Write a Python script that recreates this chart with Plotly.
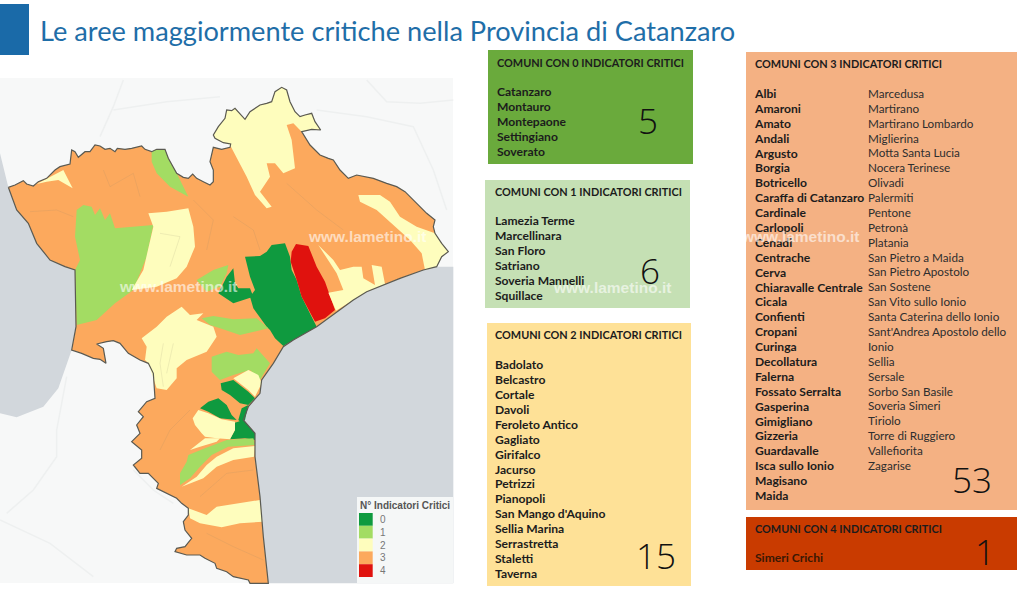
import plotly.graph_objects as go

title = "Le aree maggiormente critiche nella Provincia di Catanzaro"

class_colors = ["#0f9a3f", "#a3dc63", "#fefdbd", "#fca95d", "#e0120e"]
class_labels = ["0", "1", "2", "3", "4"]
box_colors = ["#6aaa3c", "#c5e0b4", "#fee197", "#f4b183", "#c93b00"]
box_counts = [5, 6, 15, 53, 1]

comuni_0 = ["Catanzaro", "Montauro", "Montepaone", "Settingiano", "Soverato"]
comuni_1 = ["Lamezia Terme", "Marcellinara", "San Floro", "Satriano", "Soveria Mannelli", "Squillace"]
comuni_2 = ["Badolato", "Belcastro", "Cortale", "Davoli", "Feroleto Antico", "Gagliato", "Girifalco",
            "Jacurso", "Petrizzi", "Pianopoli", "San Mango d'Aquino", "Sellia Marina", "Serrastretta",
            "Staletti", "Taverna"]
comuni_3_a = ["Albi", "Amaroni", "Amato", "Andali", "Argusto", "Borgia", "Botricello", "Caraffa di Catanzaro",
              "Cardinale", "Carlopoli", "Cenadi", "Centrache", "Cerva", "Chiaravalle Centrale", "Cicala",
              "Confienti", "Cropani", "Curinga", "Decollatura", "Falerna", "Fossato Serralta", "Gasperina",
              "Gimigliano", "Gizzeria", "Guardavalle", "Isca sullo Ionio", "Magisano", "Maida"]
comuni_3_b = ["Marcedusa", "Martirano", "Martirano Lombardo", "Miglierina", "Motta Santa Lucia",
              "Nocera Terinese", "Olivadi", "Palermiti", "Pentone", "Petronà", "Platania",
              "San Pietro a Maida", "San Pietro Apostolo", "San Sostene", "San Vito sullo Ionio",
              "Santa Caterina dello Ionio", "Sant'Andrea Apostolo dello", "Ionio", "Sellia", "Sersale",
              "Sorbo San Basile", "Soveria Simeri", "Tiriolo", "Torre di Ruggiero", "Vallefiorita", "Zagarise"]
comuni_4 = ["Simeri Crichi"]

# map outlines at 3x (upper half, then lower half of the map)
outline_north = [(25, 352), (45, 345), (70, 332), (80, 342), (100, 348), (115, 335), (140, 325), (165, 300), (180, 290),
                 (210, 282), (215, 240), (225, 245), (235, 262), (255, 245), (270, 245), (285, 225), (300, 228),
                 (315, 238), (330, 235), (345, 245), (352, 235), (375, 238), (395, 235), (425, 228), (435, 238),
                 (455, 245), (470, 238), (495, 238), (505, 265), (520, 290), (530, 310), (550, 322), (565, 325),
                 (578, 312), (590, 325), (610, 335), (630, 345), (640, 335), (640, 300), (630, 275), (640, 232),
                 (665, 238), (690, 232), (692, 222), (670, 218), (645, 205), (640, 195), (655, 170), (675, 145),
                 (680, 120), (695, 122), (705, 115), (720, 130), (735, 148), (750, 125), (780, 105), (800, 100),
                 (815, 95), (825, 65), (845, 52), (860, 60), (870, 95), (885, 125), (900, 140), (915, 135), (935, 130),
                 (945, 155), (962, 180), (935, 178), (905, 185), (930, 225), (960, 255), (985, 265), (1000, 270),
                 (1020, 300), (1045, 325), (1070, 315), (1100, 320), (1120, 325), (1160, 340), (1190, 350), (1215, 365),
                 (1250, 400), (1280, 430), (1305, 450), (1300, 470), (1305, 490), (1325, 520), (1345, 545), (1325, 560),
                 (1310, 590), (1270, 600), (1200, 625), (1150, 645), (1100, 665), (1060, 690), (1005, 730), (950, 770)]
outline_east = [(880, 30), (850, 50), (820, 100), (785, 150), (780, 190), (745, 230), (730, 270), (765, 310),
                (765, 380), (780, 500), (790, 620), (805, 760)]
outline_south = [(750, 760), (745, 750), (700, 740), (680, 725), (650, 715), (645, 700), (615, 685), (600, 675),
                 (560, 675), (525, 665), (530, 655), (555, 650), (575, 625), (555, 600), (550, 575), (565, 555),
                 (565, 535), (545, 520), (530, 505), (500, 490), (470, 475), (475, 460), (445, 430), (420, 430),
                 (400, 405), (425, 385), (425, 360), (395, 335), (420, 310), (410, 285), (430, 260), (415, 245),
                 (440, 215), (465, 205), (462, 170), (460, 130), (445, 100), (420, 90), (385, 70), (360, 40),
                 (340, 32), (320, 35), (290, 42), (310, 55), (318, 100), (300, 88), (280, 85), (245, 70), (215, 60),
                 (225, 0)]
outline_west = [(228, 770), (225, 600), (195, 590), (150, 570), (110, 520), (85, 460), (50, 420), (25, 352)]

sea_west_north = [(0, 250), (25, 352), (50, 420), (85, 460), (110, 520), (150, 570), (195, 590), (225, 600), (228, 770)]
sea_west_south = [(225, 0), (215, 60), (190, 130), (175, 175), (130, 230), (50, 262), (0, 250)]
sea_east_north = [(1360, 590), (1310, 590), (1270, 600), (1200, 625), (1150, 645), (1100, 665), (1060, 690), (1005, 730),
                  (950, 770)]
sea_east_south = [(1360, 760)]

land_lines_north = [[(370, 30), (340, 110), (300, 200)], [(340, 120), (500, 95), (660, 80)],
                    [(1100, 30), (1160, 95), (1260, 100), (1360, 90)],
                    [(950, 120), (1100, 140), (1240, 170), (1300, 300), (1340, 420)]]
land_lines_south = [[(200, 140), (170, 300), (170, 380), (100, 480), (20, 550)], [(400, 420), (460, 480), (520, 520)],
                    [(0, 570), (150, 640), (280, 740)]]
province_lines_north = [[(310, 300), (330, 350), (400, 310), (420, 380)], [(580, 390), (640, 450), (620, 540)],
                        [(700, 440), (760, 480), (780, 540)], [(860, 340), (950, 420), (1030, 480)],
                        [(480, 490), (540, 500), (510, 590)], [(90, 425), (170, 420), (220, 440)]]
province_lines_south = [[(490, 40), (480, 100), (490, 170)], [(520, 40), (510, 90), (500, 130)],
                        [(480, 360), (510, 300), (570, 240)], [(600, 500), (680, 430), (760, 420)],
                        [(620, 610), (700, 650), (790, 690)]]


def low(points):
    # lower crop starts 260 px further down the page
    return [(x, y + 780) for x, y in points]


province = outline_north + low(outline_east) + low(outline_south) + outline_west

regions = [
    (2, [(690, 225), (670, 218), (645, 205), (640, 195), (655, 170), (675, 145), (680, 120), (695, 122), (705, 115),
         (720, 130), (735, 148), (750, 125), (780, 105), (800, 100), (815, 95), (825, 65), (845, 52), (860, 60),
         (870, 95), (885, 125), (900, 140), (915, 135), (935, 130), (945, 155), (962, 180), (935, 178), (905, 185),
         (880, 160), (860, 165), (875, 210), (880, 250), (885, 295), (850, 310), (825, 280), (800, 280), (810, 320),
         (780, 365), (815, 410), (800, 415), (765, 375), (740, 320), (700, 240)]),
    (1, [(455, 245), (470, 238), (495, 238), (505, 265), (530, 310), (565, 380), (510, 350), (470, 310), (455, 275)]),
    (2, [(110, 342), (180, 305), (190, 300), (218, 355), (175, 330), (140, 335)]),
    (1, [(230, 420), (250, 405), (275, 410), (285, 435), (300, 415), (315, 450), (330, 430), (345, 475), (460, 465),
         (440, 560), (420, 610), (400, 660), (345, 700), (290, 750), (230, 765), (225, 600), (240, 570), (225, 500)]),
    (2, [(445, 430), (500, 425), (565, 415), (580, 470), (585, 530), (560, 590), (530, 625), (470, 650), (395, 660),
         (430, 600), (460, 470)]),
    (1, [(590, 630), (640, 600), (685, 585), (680, 610), (660, 650), (620, 665)]),
    (0, [(735, 560), (780, 558), (800, 545), (815, 525), (855, 520), (870, 560), (875, 600), (890, 630), (905, 680),
         (940, 750), (950, 770)] + low([(880, 30), (850, 48), (825, 25), (810, 0)]) + [(800, 770), (760, 715),
         (750, 680), (765, 660), (750, 620)]),
    (0, [(700, 595), (705, 640), (715, 655), (750, 655), (760, 680), (700, 700), (655, 670), (680, 620)]),
    (4, [(888, 522), (925, 528), (950, 590), (975, 635), (1005, 720), (975, 745), (945, 755), (905, 680), (890, 630),
         (872, 575), (875, 545)]),
    (2, [(955, 525), (1000, 570), (1020, 600), (1060, 590), (1085, 590), (1090, 625), (1125, 645), (1115, 585),
         (1145, 590), (1155, 642), (1100, 665), (1060, 690), (1008, 722), (985, 668), (1030, 660), (1010, 610)]),
    (2, [(1075, 375), (1140, 375), (1170, 395), (1200, 440), (1250, 470), (1305, 490), (1325, 520), (1345, 545),
         (1325, 560), (1310, 590), (1275, 600), (1265, 550), (1230, 510), (1180, 465), (1130, 420), (1080, 395)]),
    (2, [(470, 770), (500, 740), (545, 710), (570, 735), (610, 730), (590, 750), (640, 770)] + low([(650, 20),
         (620, 65), (560, 90), (530, 115), (530, 145), (500, 180), (470, 175), (445, 100), (435, 90), (440, 50),
         (425, 25)])),
    (1, [(605, 745), (640, 738), (700, 748), (770, 745), (805, 775), (720, 795), (660, 775), (630, 765)]),
    (1, low([(635, 80), (680, 65), (715, 75), (760, 70), (770, 55), (810, 100), (780, 150), (750, 120), (700, 135),
             (660, 150), (635, 125)])),
    (2, low([(700, 145), (745, 120), (775, 135), (785, 160), (765, 200), (745, 180)])),
    (0, low([(662, 160), (700, 150), (745, 185), (765, 205), (745, 225), (720, 220), (690, 195), (665, 180)])),
    (0, low([(600, 235), (625, 215), (655, 205), (680, 225), (695, 255), (710, 270), (660, 265), (625, 245)])),
    (0, low([(700, 280), (730, 270), (765, 310), (765, 330), (735, 325), (690, 328), (705, 300)])),
    (0, low([(715, 270), (725, 235), (745, 225), (735, 270), (725, 280)])),
    (2, low([(578, 265), (595, 240), (625, 250), (665, 268), (705, 275), (705, 300), (690, 328), (650, 325),
             (615, 320), (605, 310), (585, 285)])),
    (2, low([(570, 360), (615, 325), (660, 325), (650, 335), (600, 350)])),
    (1, low([(540, 465), (540, 430), (560, 395), (565, 375), (615, 355), (680, 330), (760, 325), (765, 345),
             (685, 350), (635, 375), (600, 410), (570, 445)])),
    (2, low([(545, 470), (590, 440), (620, 405), (650, 380), (700, 355), (765, 348), (762, 380), (700, 390),
             (650, 410), (610, 445)])),
    (2, low([(565, 535), (620, 555), (650, 530), (720, 520), (780, 510), (788, 575), (720, 580), (665, 592),
             (600, 580), (570, 565)])),
]

watermarks = [(367, 236), (178, 286), (612, 287), (800, 236)]


def to_page(points):
    return [p[0] / 3 for p in points], [70 + p[1] / 3 for p in points]


def add_poly(fig, points, color):
    xs, ys = to_page(points)
    fig.add_trace(go.Scatter(
        x=xs + xs[:1], y=ys + ys[:1], mode="lines", fill="toself", fillcolor=color,
        line=dict(color=color, width=0), hoverinfo="skip",
    ))


def add_line(fig, points, color, width):
    xs, ys = to_page(points)
    fig.add_trace(go.Scatter(x=xs, y=ys, mode="lines", line=dict(color=color, width=width), hoverinfo="skip"))


def add_text(fig, x, y, names, step, size=12.1, color="#1c1c1c", bold=True):
    labels = [f"<b>{n}</b>" if bold else n for n in names]
    fig.add_trace(go.Scatter(
        x=[x] * len(names), y=[y + i * step for i in range(len(names))], mode="text", text=labels,
        textposition="middle right", textfont=dict(family="Lato", size=size, color=color), hoverinfo="skip",
    ))


fig = go.Figure()

shapes = [
    dict(type="rect", x0=0, x1=29, y0=4, y1=55, fillcolor="#1a6aa8", line_width=0, layer="below"),
    dict(type="rect", x0=0, x1=453, y0=78, y1=583, fillcolor="#f7f8f8", line_width=0, layer="below"),
    dict(type="rect", x0=488, x1=693, y0=50, y1=164, fillcolor=box_colors[0], line_width=0, layer="below"),
    dict(type="rect", x0=485, x1=690, y0=180, y1=308, fillcolor=box_colors[1], line_width=0, layer="below"),
    dict(type="rect", x0=487, x1=691, y0=323, y1=586, fillcolor=box_colors[2], line_width=0, layer="below"),
    dict(type="rect", x0=746, x1=1017, y0=52, y1=510, fillcolor=box_colors[3], line_width=0, layer="below"),
    dict(type="rect", x0=746, x1=1017, y0=517, y1=570, fillcolor=box_colors[4], line_width=0, layer="below"),
]

# faint roads on the land, then sea and province
for line in land_lines_north:
    add_line(fig, line, "#eef0f0", 1.5)
for line in land_lines_south:
    add_line(fig, low(line), "#eef0f0", 1.5)
add_poly(fig, sea_west_north + low(sea_west_south), "#d2d7dc")
add_poly(fig, sea_east_north + low(outline_east) + low(sea_east_south), "#d2d7dc")
add_poly(fig, province, class_colors[3])
for cls, pts in regions:
    add_poly(fig, pts, class_colors[cls])
for line in province_lines_north:
    add_line(fig, line, "rgba(140,130,110,0.2)", 0.7)
for line in province_lines_south:
    add_line(fig, low(line), "rgba(140,130,110,0.2)", 0.7)
add_line(fig, province, "#5a5a52", 1.2)

# legend panel of the map
shapes.append(dict(type="rect", x0=357, x1=453, y0=497, y1=583, fillcolor="#f5f7f7", line_width=0, layer="above"))
for i, c in enumerate(class_colors):
    shapes.append(dict(type="rect", x0=359, x1=372.7, y0=513 + i * 12.8, y1=513 + (i + 1) * 12.8,
                       fillcolor=c, line_width=0, layer="above"))

# text columns
headers = [(497, 64, "0"), (495, 193, "1"), (495, 336, "2"), (755, 65, "3"), (755, 530, "4")]
for x, y, n in headers:
    add_text(fig, x, y, [f"COMUNI CON {n} INDICATORI CRITICI"], 0, size=10.9)
add_text(fig, 497, 93, comuni_0, 15)
add_text(fig, 495, 222, comuni_1, 15)
add_text(fig, 495, 366, comuni_2, 14.93)
add_text(fig, 755, 95, comuni_3_a, 14.89)
add_text(fig, 868, 95, comuni_3_b, 14.88, size=11.7, color="#2e2e2e", bold=False)
add_text(fig, 755, 559, comuni_4, 0, color="#3a1804")

annotations = [dict(x=38, y=30, text=title, showarrow=False, xanchor="left", yanchor="middle",
                    font=dict(family="Lato", size=27.2, color="#1f6ea8"))]
for (x, y), n in zip([(648, 120), (650, 270), (656, 555), (972, 479), (985, 551)], box_counts):
    annotations.append(dict(x=x, y=y, text=str(n), showarrow=False,
                            font=dict(family="Open Sans", size=35, color="#111111", weight=300)))
annotations.append(dict(x=358, y=505, text="<b>N° Indicatori Critici</b>", showarrow=False, xanchor="left",
                        font=dict(family="Liberation Sans", size=10, color="#555555")))
for i, lab in enumerate(class_labels):
    annotations.append(dict(x=378, y=519.5 + i * 12.8, text=lab, showarrow=False, xanchor="left",
                            font=dict(family="Liberation Sans", size=10, color="#777777")))
for x, y in watermarks:
    annotations.append(dict(x=x, y=y, text="<b>www.lametino.it</b>", showarrow=False,
                            font=dict(family="Liberation Sans", size=15.5, color="rgba(255,255,255,0.6)")))

fig.update_layout(
    width=1024, height=593, margin=dict(l=0, r=0, t=0, b=0), showlegend=False,
    paper_bgcolor="white", plot_bgcolor="white", shapes=shapes, annotations=annotations,
    xaxis=dict(range=[0, 1024], visible=False, fixedrange=True),
    yaxis=dict(range=[593, 0], visible=False, fixedrange=True),
)

fig.write_html("out.html", config={"displayModeBar": False},
               post_script="document.body.style.margin='0';document.body.style.overflow='hidden';")
